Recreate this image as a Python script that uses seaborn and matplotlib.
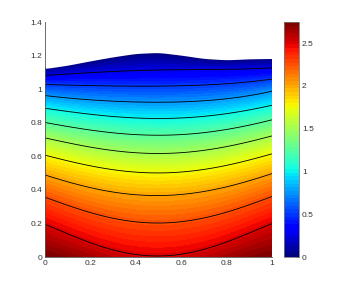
import numpy as np
import matplotlib
matplotlib.use("Agg")
import matplotlib.pyplot as plt
import seaborn as sns
from matplotlib.colors import Normalize
from matplotlib.cm import ScalarMappable

sns.set_style("white")
plt.rcParams['font.family'] = ['Liberation Sans', 'DejaVu Sans']

# Top boundary of the domain
top_x = [0.0, 0.1, 0.2, 0.3, 0.4, 0.5, 0.6, 0.7, 0.8, 0.9, 1.0]
top_h = [1.127, 1.147, 1.173, 1.197, 1.217, 1.223, 1.207, 1.187, 1.179, 1.185, 1.187]

# Contour levels (value 0 on the top boundary)
line_levels = [0.25, 0.5, 0.75, 1.0, 1.25, 1.5, 1.75, 2.0, 2.25, 2.5]
col_x = [0.0, 0.25, 0.5, 0.75, 1.0]
# heights of each contour level at each sampled column
h_col0 = [1.084, 1.030, 0.964, 0.888, 0.803, 0.711, 0.608, 0.490, 0.357, 0.195]
h_col1 = [1.104, 1.022, 0.934, 0.845, 0.749, 0.645, 0.532, 0.400, 0.247, 0.062]
h_col2 = [1.116, 1.020, 0.924, 0.827, 0.727, 0.618, 0.502, 0.367, 0.203, 0.006]
h_col3 = [1.120, 1.030, 0.938, 0.847, 0.751, 0.647, 0.534, 0.404, 0.249, 0.066]
h_col4 = [1.129, 1.062, 0.990, 0.906, 0.819, 0.723, 0.616, 0.498, 0.361, 0.199]
bottom_val = [2.74, 2.60, 2.51, 2.60, 2.74]
vmax = 2.74

# build field table
H = np.array([h_col0, h_col1, h_col2, h_col3, h_col4])  # (5, 10)
nx, ns = 400, 300
xf = np.linspace(0, 1, nx)
tx = np.array(top_x); th = np.array(top_h)
htop = np.interp(xf, tx, th)
kern = np.ones(25) / 25
pad = np.pad(htop, 12, mode='edge')
htop = np.convolve(pad, kern, mode='valid')

Hf = np.empty((nx, len(line_levels)))
for k in range(len(line_levels)):
    p = np.polyfit(col_x, H[:, k], 4)
    Hf[:, k] = np.polyval(p, xf)
pb = np.polyfit(col_x, bottom_val, 4)
bf = np.polyval(pb, xf)

s = np.linspace(0, 1, ns)
X = np.tile(xf, (ns, 1))
Y = np.outer(s, htop)
Z = np.empty_like(Y)
lv = np.array(line_levels)
for i in range(nx):
    ys = np.concatenate([[0.0], Hf[i, ::-1], [htop[i]]])
    vs = np.concatenate([[bf[i]], lv[::-1], [0.0]])
    Z[:, i] = np.interp(Y[:, i], ys, vs)

fig = plt.figure(figsize=(3.46, 2.91), dpi=100)
ax = fig.add_axes([0.130, 0.1168, 0.656, 0.806])
cmap = plt.get_cmap('jet', 64)
fill_levels = np.linspace(0, vmax, 65)
fill_levels[0] = -0.05
fill_levels[-1] = vmax + 0.05
ax.contourf(X, Y, Z, levels=fill_levels, cmap=cmap, vmin=0, vmax=vmax, antialiased=False)
ax.contour(X, Y, Z, levels=line_levels, colors='black', linewidths=0.6)
# smooth (antialiased) white mask above the top boundary
ax.fill_between(xf, htop - 0.002, 1.5, color='white', lw=0, antialiased=True, zorder=3)

ax.set_xlim(0, 1)
ax.set_ylim(0, 1.4)
ax.set_xticks([0, 0.2, 0.4, 0.6, 0.8, 1])
ax.set_xticklabels(['0', '0.2', '0.4', '0.6', '0.8', '1'])
ax.set_yticks([0, 0.2, 0.4, 0.6, 0.8, 1, 1.2, 1.4])
ax.set_yticklabels(['0', '0.2', '0.4', '0.6', '0.8', '1', '1.2', '1.4'])
for sp in ['top', 'right']:
    ax.spines[sp].set_visible(False)
for sp in ['left', 'bottom']:
    ax.spines[sp].set_color('#555555')
    ax.spines[sp].set_linewidth(0.6)
    ax.spines[sp].set_zorder(4)
ax.tick_params(direction='in', length=3, width=0.5, labelsize=6, colors='#333333', pad=2)
ax.set_facecolor('white')

cax = fig.add_axes([0.821, 0.1168, 0.044, 0.806])
sm = ScalarMappable(norm=Normalize(0, vmax), cmap=cmap)
cb = fig.colorbar(sm, cax=cax)
cb.set_ticks([0, 0.5, 1, 1.5, 2, 2.5])
cb.set_ticklabels(['0', '0.5', '1', '1.5', '2', '2.5'])
cb.outline.set_edgecolor('#777777')
cb.outline.set_linewidth(0.6)
cax.tick_params(direction='in', length=2, width=0.5, labelsize=6, colors='#333333', pad=2)

fig.savefig('out.png', dpi=100)
